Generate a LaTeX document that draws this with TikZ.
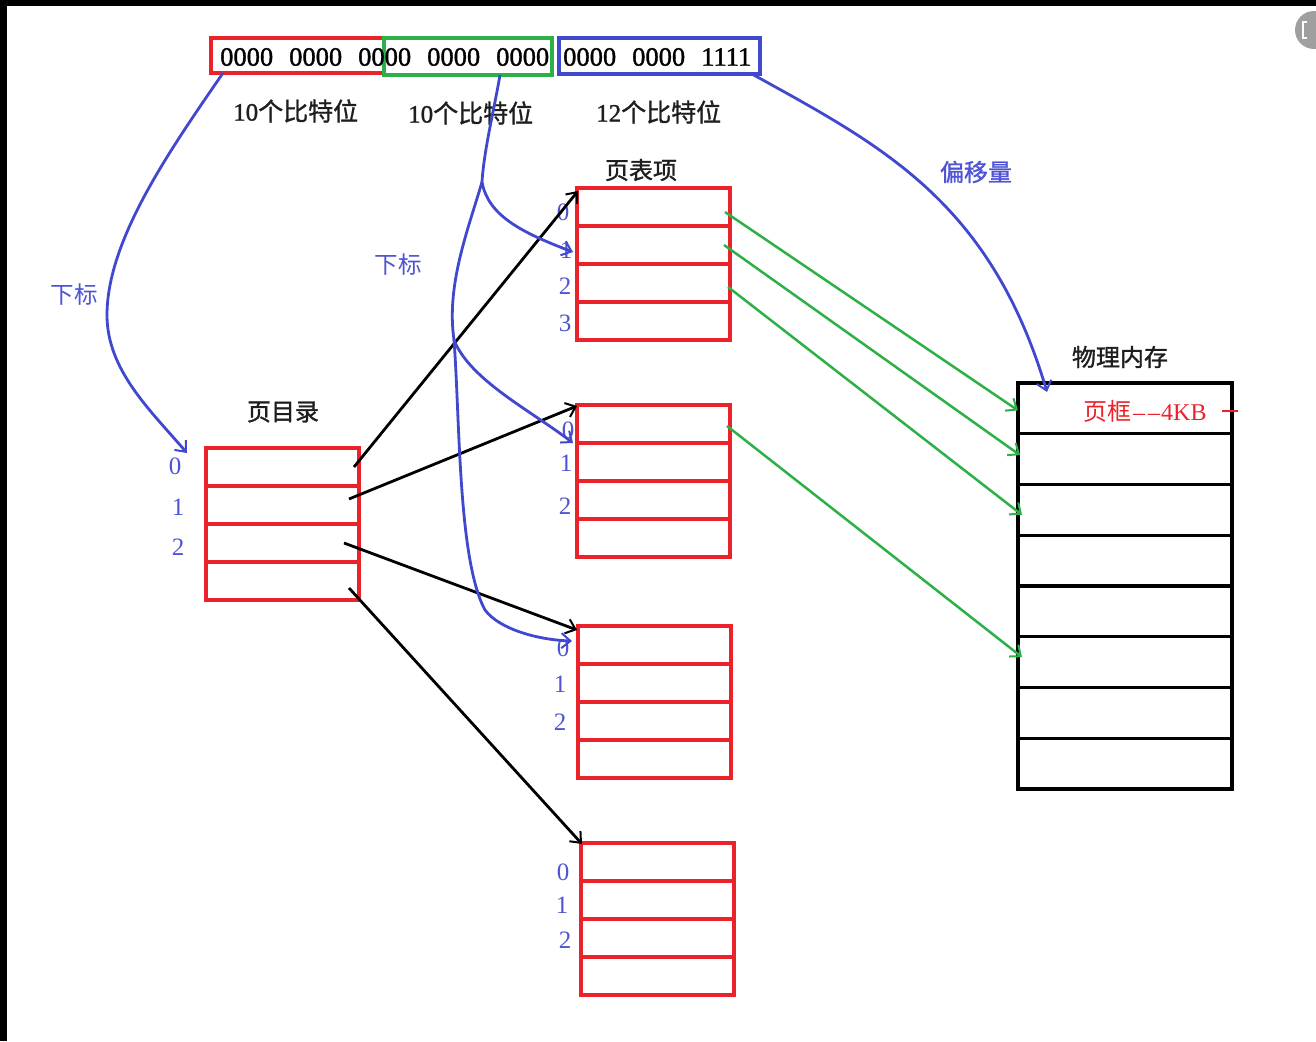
\documentclass[tikz,border=0pt]{standalone}
\usepackage{fontspec}
\setmainfont{Liberation Serif}
\newfontfamily\cjk{Noto Sans CJK SC}
\newfontfamily\cjkb[FakeBold=1.2]{Noto Sans CJK SC}
\newfontfamily\serifb[FakeBold=1.2]{Liberation Serif}
\usetikzlibrary{arrows.meta}

\definecolor{tabred}{RGB}{236,34,42}
\definecolor{linkgreen}{RGB}{46,176,72}
\definecolor{linkblue}{RGB}{64,72,206}
\definecolor{idxblue}{RGB}{78,84,212}
\definecolor{headtext}{RGB}{30,30,30}

\newcommand\setfs[1]{\fontsize{#1}{#1}\selectfont}

\tikzset{
  cell/.style={draw=tabred, line width=3.2pt, minimum width=153pt, minimum height=38pt,
               inner sep=0pt, outer sep=0pt, anchor=north west},
  memrow/.style={draw=black, line width=3.2pt, minimum width=214pt, minimum height=50.75pt,
               inner sep=0pt, outer sep=0pt, anchor=north west},
  bitbox/.style={line width=3.2pt, inner sep=0pt, outer sep=0pt},
  idx/.style={text=idxblue, font=\setfs{25}, inner sep=0pt},
  head/.style={text=headtext, font=\setfs{24}\cjkb, inner sep=0pt},
  barb/.style={-{Straight Barb[length=9pt,width=15pt,line width=2pt]}},
  blk/.style={draw=black, line width=2.8pt, barb},
  grn/.style={draw=linkgreen, line width=2.5pt, barb},
  blu/.style={draw=linkblue, line width=2.8pt},
}

% one table of four entries: name, left x, top y
\newcommand\pagetable[3]{%
  \foreach \r in {0,...,3} {
    \node[cell] (#1\r) at (#2, {#3+\r*38}) {};
  }%
}

\begin{document}
\begin{tikzpicture}[x=1pt, y=-1pt]
\useasboundingbox (0,0) rectangle (1316,1041);
\fill[white] (0,0) rectangle (1316,1041);

% window frame
\fill[black] (0,0) rectangle (1316,6);
\fill[black] (0,0) rectangle (7,1041);
\fill[gray!75] (1314,30) circle (19);
\draw[white, line width=1.5pt] (1307,22) -- (1303,22) -- (1303,38) -- (1307,38);

% linear address split into three fields
\node[bitbox, draw=tabred, minimum width=173pt, minimum height=35pt] (bitsA) at (297.5,55.5) {};
\node[bitbox, draw=linkgreen, minimum width=168pt, minimum height=37pt] (bitsB) at (468,56.5) {};
\node[bitbox, draw=linkblue, minimum width=201pt, minimum height=36pt] (bitsC) at (659.5,56) {};
\node[anchor=west, inner sep=0pt, font=\setfs{26.5}\serifb] (bitsAB) at (220,57)
  {0000\hspace{16pt}0000\hspace{16pt}0000\hspace{16pt}0000\hspace{16pt}0000};
\node[anchor=west, inner sep=0pt, font=\setfs{26.5}\serifb] (bitsCtxt) at (563,57)
  {0000\hspace{16pt}0000\hspace{16pt}1111};

\node[head, anchor=west] (lenA) at (233,111) {\setfs{25}\serifb 10{\cjkb 个比特位}};
\node[head, anchor=west] (lenB) at (408,113) {\setfs{25}\serifb 10{\cjkb 个比特位}};
\node[head, anchor=west] (lenC) at (596,112) {\setfs{25}\serifb 12{\cjkb 个比特位}};

% page directory
\node[head] (pdtitle) at (283,412) {页目录};
\pagetable{pd}{206}{448}
\node[idx] (pdi0) at (175,466) {0};
\node[idx] (pdi1) at (178,507) {1};
\node[idx] (pdi2) at (178,547) {2};

% page tables
\node[head] (pttitle) at (641,170) {页表项};
\pagetable{pta}{577}{188}
\node[idx] (ptai0) at (563,212) {0};
\node[idx] (ptai1) at (566,250) {1};
\node[idx] (ptai2) at (565,286) {2};
\node[idx] (ptai3) at (565,323) {3};

\pagetable{ptb}{577}{405}
\node[idx] (ptbi0) at (568,430) {0};
\node[idx] (ptbi1) at (566,463) {1};
\node[idx] (ptbi2) at (565,506) {2};

\pagetable{ptc}{578}{626}
\node[idx] (ptci0) at (563,648) {0};
\node[idx] (ptci1) at (560,684) {1};
\node[idx] (ptci2) at (560,722) {2};

\pagetable{ptd}{581}{843}
\node[idx] (ptdi0) at (563,872) {0};
\node[idx] (ptdi1) at (562,905) {1};
\node[idx] (ptdi2) at (565,940) {2};

% physical memory
\node[head] (memtitle) at (1120,357) {物理内存};
\foreach \r in {0,...,7} {
  \node[memrow] (mem\r) at (1018, {383+\r*50.75}) {};
}
\node[anchor=west, inner sep=0pt, text=tabred] (frame) at (1083,411)
  {{\setfs{24}\cjk 页框}{\setfs{24}\kern2pt\textendash\kern3pt\textendash\kern1pt 4KB}};
\draw[tabred, line width=2.5pt] (1222,411) -- (1238,411);

% directory entries point to page tables
\draw[blk] ([xshift=-5pt]pd0.east) -- ([xshift=1pt,yshift=-3pt]pta0.north west);
\draw[blk] ([xshift=-10pt,yshift=6pt]pd1.east) -- ([yshift=-1pt]ptb0.north west);
\draw[blk] ([xshift=-15pt]pd2.east) -- ([xshift=-1pt,yshift=-4pt]ptc0.north west);
\draw[blk] ([xshift=-10pt,yshift=-7pt]pd3.east) -- ([xshift=1pt,yshift=-1pt]ptd0.north west);

% page table entries point to page frames
\draw[grn] ([xshift=-5pt,yshift=-5pt]pta0.east) -- ([yshift=-2pt]mem0.west);
\draw[grn] ([xshift=-6pt]pta1.east) -- ([xshift=2pt,yshift=4pt]mem1.west);
\draw[grn] ([xshift=-2pt,yshift=-4pt]pta2.east) -- ([xshift=4pt,yshift=-5pt]mem2.west);
\draw[grn] ([xshift=-3pt,yshift=-2pt]ptb0.east) -- ([xshift=4pt,yshift=5pt]mem5.west);

% directory index field
\draw[blu, barb] ([xshift=12pt]bitsA.south west)
  .. controls (170,150) and (107,240) .. (107,315)
  .. controls (107,370) and (150,410) .. ([xshift=-19pt,yshift=-5pt]pd0.north west);
\node[text=idxblue, font=\setfs{23.5}\cjk, inner sep=0pt] (subA) at (74,295) {下标};

% table index field
\coordinate (forkA) at (482,182);
\coordinate (forkB) at (454,340);
\draw[blu] ([xshift=32pt]bitsB.south) .. controls (494,110) and (484,150) .. (forkA);
\draw[blu, barb] (forkA) .. controls (488,215) and (520,232) .. ([xshift=-4pt,yshift=-7pt]pta1.west);
\draw[blu] (forkA) .. controls (468,230) and (446,285) .. (forkB);
\draw[blu, barb] (forkB) .. controls (470,380) and (530,410) .. ([xshift=-4pt]ptb0.south west);
\draw[blu, barb] (forkB) .. controls (460,420) and (458,560) .. (485,610)
  .. controls (500,630) and (540,640) .. ([xshift=-6pt,yshift=-15pt]ptc0.north west);
\node[text=idxblue, font=\setfs{23.5}\cjk, inner sep=0pt] (subB) at (398,265) {下标};

% offset field
\draw[blu, barb] ([xshift=-8pt]bitsC.south east)
  .. controls (880,145) and (990,200) .. ([xshift=29pt,yshift=-9pt]mem0.north west);
\node[text=idxblue, font=\setfs{24}\cjkb, inner sep=0pt] (offs) at (976,172) {偏移量};
\end{tikzpicture}
\end{document}
